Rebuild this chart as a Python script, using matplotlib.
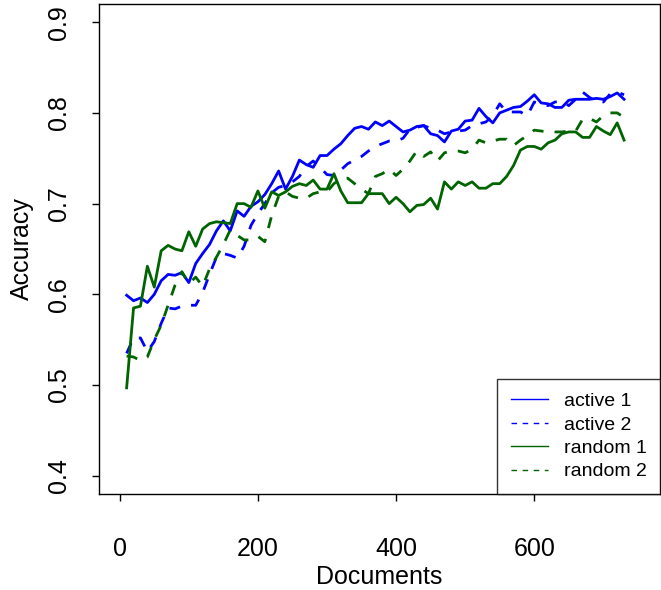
import matplotlib
matplotlib.use("Agg")
import matplotlib.pyplot as plt
import numpy as np

plt.rcParams["font.family"] = ["Liberation Sans", "DejaVu Sans"]

documents = np.arange(10, 740, 10)

active_1 = [0.599, 0.593, 0.596, 0.591, 0.600, 0.615, 0.622, 0.621, 0.624, 0.613,
            0.634, 0.645, 0.655, 0.670, 0.681, 0.670, 0.692, 0.686, 0.697, 0.702,
            0.710, 0.722, 0.736, 0.716, 0.730, 0.748, 0.743, 0.740, 0.753, 0.753,
            0.760, 0.766, 0.775, 0.783, 0.785, 0.782, 0.790, 0.786, 0.791, 0.785,
            0.779, 0.781, 0.785, 0.786, 0.777, 0.775, 0.768, 0.780, 0.782, 0.791,
            0.792, 0.805, 0.796, 0.789, 0.800, 0.803, 0.806, 0.807, 0.813, 0.820,
            0.811, 0.810, 0.806, 0.806, 0.814, 0.815, 0.815, 0.815, 0.816, 0.815,
            0.818, 0.822, 0.815]

active_2 = [0.535, 0.552, 0.552, 0.537, 0.548, 0.568, 0.585, 0.584, 0.587, 0.588,
            0.588, 0.602, 0.622, 0.641, 0.645, 0.643, 0.640, 0.653, 0.676, 0.689,
            0.700, 0.712, 0.718, 0.720, 0.724, 0.730, 0.741, 0.747, 0.740, 0.732,
            0.731, 0.737, 0.744, 0.748, 0.752, 0.758, 0.763, 0.766, 0.769, 0.769,
            0.772, 0.782, 0.784, 0.786, 0.783, 0.781, 0.777, 0.779, 0.780, 0.781,
            0.786, 0.788, 0.790, 0.797, 0.810, 0.801, 0.801, 0.801, 0.797, 0.812,
            0.810, 0.808, 0.812, 0.813, 0.808, 0.815, 0.823, 0.817, 0.813, 0.812,
            0.821, 0.823, 0.820]

random_1 = [0.497, 0.585, 0.587, 0.631, 0.608, 0.648, 0.654, 0.650, 0.648, 0.669,
            0.653, 0.672, 0.678, 0.680, 0.679, 0.678, 0.700, 0.700, 0.696, 0.714,
            0.695, 0.713, 0.709, 0.713, 0.719, 0.722, 0.720, 0.726, 0.716, 0.716,
            0.733, 0.714, 0.701, 0.701, 0.701, 0.711, 0.711, 0.711, 0.700, 0.707,
            0.700, 0.691, 0.698, 0.699, 0.706, 0.694, 0.724, 0.716, 0.724, 0.720,
            0.724, 0.717, 0.717, 0.722, 0.722, 0.730, 0.742, 0.759, 0.763, 0.763,
            0.760, 0.767, 0.770, 0.777, 0.779, 0.779, 0.773, 0.773, 0.785, 0.780,
            0.776, 0.789, 0.770]

random_2 = [0.532, 0.531, 0.527, 0.531, 0.550, 0.566, 0.588, 0.610, 0.625, 0.612,
            0.619, 0.609, 0.628, 0.641, 0.655, 0.671, 0.665, 0.660, 0.660, 0.664,
            0.658, 0.687, 0.708, 0.713, 0.708, 0.706, 0.706, 0.711, 0.713, 0.713,
            0.722, 0.727, 0.728, 0.722, 0.716, 0.711, 0.730, 0.733, 0.738, 0.731,
            0.738, 0.747, 0.758, 0.752, 0.757, 0.747, 0.756, 0.758, 0.758, 0.756,
            0.760, 0.770, 0.767, 0.769, 0.771, 0.771, 0.764, 0.770, 0.775, 0.781,
            0.780, 0.779, 0.779, 0.779, 0.780, 0.780, 0.793, 0.794, 0.790, 0.797,
            0.800, 0.800, 0.795]

fig = plt.figure(figsize=(6.61, 5.90), dpi=100)
ax = fig.add_axes([99 / 661, 96 / 590, 561 / 661, 490 / 590])

lw = 2.0
ax.plot(documents, active_1, color="#0000FF", linewidth=lw, solid_joinstyle="round")
ax.plot(documents, active_2, color="#0000FF", linewidth=lw, dashes=(4, 4))
ax.plot(documents, random_1, color="#006400", linewidth=lw, solid_joinstyle="round")
ax.plot(documents, random_2, color="#006400", linewidth=lw, dashes=(4, 4))

ax.set_xlim(-30, 782)
ax.set_ylim(0.38, 0.92)
ax.set_xticks([0, 200, 400, 600])
ax.set_yticks([0.4, 0.5, 0.6, 0.7, 0.8, 0.9])
ax.set_yticklabels(["0.4", "0.5", "0.6", "0.7", "0.8", "0.9"], rotation=90, va="center")
ax.tick_params(axis="both", direction="out", length=5, width=1, labelsize=18)
ax.tick_params(axis="x", pad=26)
ax.tick_params(axis="y", pad=15)
for s in ax.spines.values():
    s.set_linewidth(1)

# axis titles placed directly in figure pixels
fig.text(379.5 / 661, 1 - 577 / 590, "Documents", fontsize=18, ha="center", va="center")
fig.text(22 / 661, 1 - 249 / 590, "Accuracy", fontsize=18, ha="center", va="center",
         rotation=90)

handles = [
    plt.Line2D([], [], color="#0000FF", linewidth=1),
    plt.Line2D([], [], color="#0000FF", linewidth=1, dashes=(4, 4)),
    plt.Line2D([], [], color="#006400", linewidth=1),
    plt.Line2D([], [], color="#006400", linewidth=1, dashes=(4, 4)),
]
leg = ax.legend(handles, ["active 1", "active 2", "random 1", "random 2"],
                loc="lower right", fontsize=14, frameon=True, fancybox=False,
                edgecolor="black", borderaxespad=0, handlelength=1.9,
                handletextpad=0.8, labelspacing=0.3, borderpad=0.7)
leg.get_frame().set_linewidth(1)

fig.savefig("out.png", dpi=100)
